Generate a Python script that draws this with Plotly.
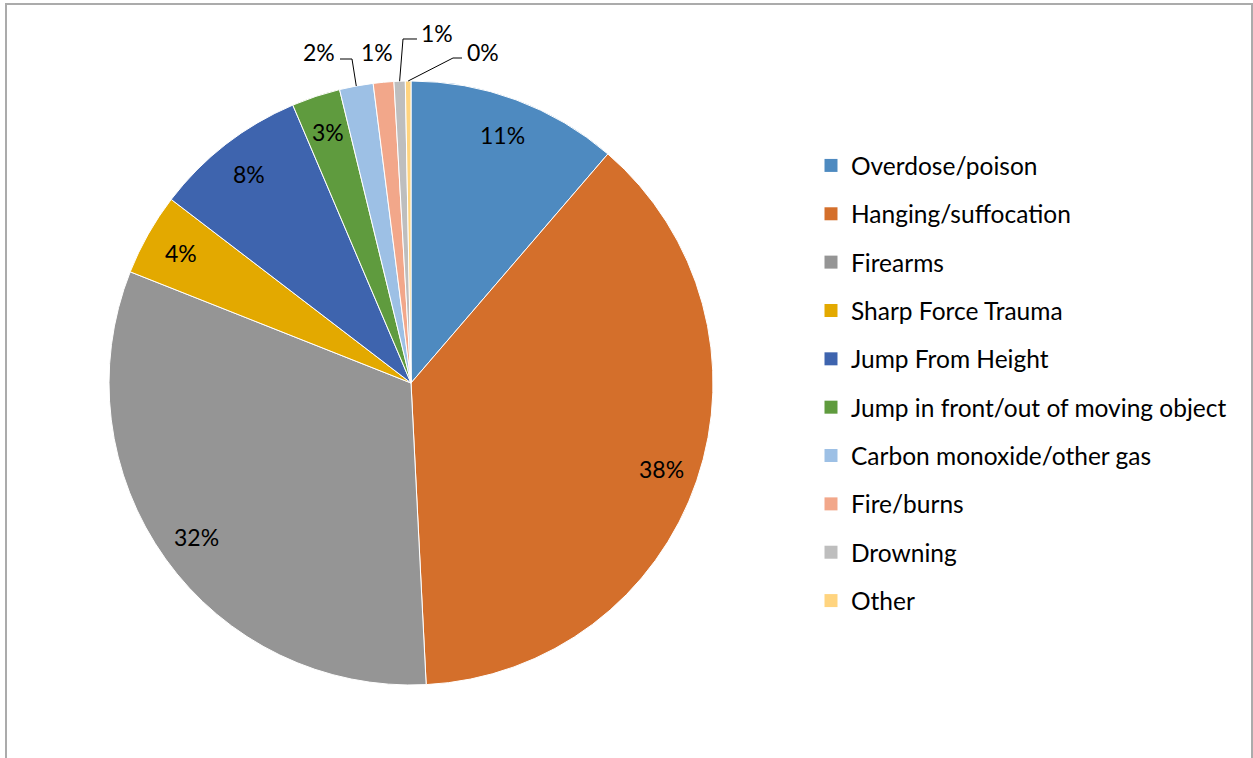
import math
import plotly.graph_objects as go

categories = ["Overdose/poison", "Hanging/suffocation", "Firearms", "Sharp Force Trauma",
              "Jump From Height", "Jump in front/out of moving object",
              "Carbon monoxide/other gas", "Fire/burns", "Drowning", "Other"]
values = [11.3, 37.9, 31.8, 4.4, 8.2, 2.6, 1.8, 1.1, 0.6, 0.3]
colors = ["#4E8AC0", "#D46F2B", "#959595", "#E3A900", "#3E64AE", "#5F9B3E",
          "#9DC0E5", "#F2A78A", "#BEBEBE", "#FFD47F"]

W, H = 1253, 758
FONT = "Lato"
cx, cy, R = 411, 383, 302  # pie geometry in px
LABEL_R = 0.875

def px(x):
    return x / W

def py(y):
    return 1 - y / H

fig = go.Figure()
fig.add_trace(go.Pie(
    labels=categories, values=values, sort=False, direction="clockwise", rotation=0,
    marker=dict(colors=colors, line=dict(color="white", width=1)),
    textposition="none",
    domain=dict(x=[px(cx - R), px(cx + R)], y=[py(cy + R), py(cy - R)]),
    showlegend=False, hoverinfo="label+percent",
))

# legend entries (one group each for spacing)
for c, col in zip(categories, colors):
    fig.add_trace(go.Scatter(
        x=[None], y=[None], mode="markers", name=c, legendgroup=c,
        marker=dict(symbol="square", size=13, color=col), hoverinfo="skip"))

total = sum(values)
cum = 0
mids = []
for v in values:
    mids.append((cum + v / 2) / total)
    cum += v

def polar(i, r):
    a = 2 * math.pi * mids[i]
    return cx + r * math.sin(a), cy - r * math.cos(a)

annotations = []
shapes = []
label_font = dict(family=FONT, size=23, color="black")

# inside labels
for i in range(6):
    pct = round(100 * values[i] / total)
    lx, ly = polar(i, LABEL_R * R)
    annotations.append(dict(x=px(lx), y=py(ly), xref="paper", yref="paper", text=f"{pct}%",
                            showarrow=False, font=label_font, xanchor="center", yanchor="middle"))

# outside labels for small slices
out_labels = {6: (319, 52, [(340, 59), (352, 59)]),
              7: (377, 52, []),
              8: (437, 33, [(417, 39), (403, 39)]),
              9: (483, 52, [(462, 58), (453, 58)])}
for i, (lx, ly, pts) in out_labels.items():
    pct = round(100 * values[i] / total)
    annotations.append(dict(x=px(lx), y=py(ly), xref="paper", yref="paper", text=f"{pct}%",
                            showarrow=False, font=label_font, xanchor="center", yanchor="middle"))
    if pts:
        ax, ay = polar(i, R)
        allp = pts + [(ax, ay)]
        path = "M " + " L ".join(f"{px(x):.5f},{py(y):.5f}" for x, y in allp)
        shapes.append(dict(type="path", xref="paper", yref="paper", path=path,
                           line=dict(color="black", width=1)))

shapes.append(dict(type="rect", xref="paper", yref="paper", x0=px(6), y0=-0.05, x1=px(1252), y1=py(4),
                   line=dict(color="#ABABAB", width=2), fillcolor="rgba(0,0,0,0)"))

fig.update_layout(
    width=W, height=H, margin=dict(l=0, r=0, t=0, b=0),
    paper_bgcolor="white", plot_bgcolor="white",
    xaxis=dict(visible=False), yaxis=dict(visible=False),
    legend=dict(x=px(811), y=py(143), xanchor="left", yanchor="top",
                font=dict(family=FONT, size=24.5, color="black"),
                tracegroupgap=13.5, bgcolor="rgba(0,0,0,0)"),
    annotations=annotations, shapes=shapes,
)
fig.write_html("out.html", config={"displayModeBar": False},
               post_script="document.body.style.margin='0px';")
